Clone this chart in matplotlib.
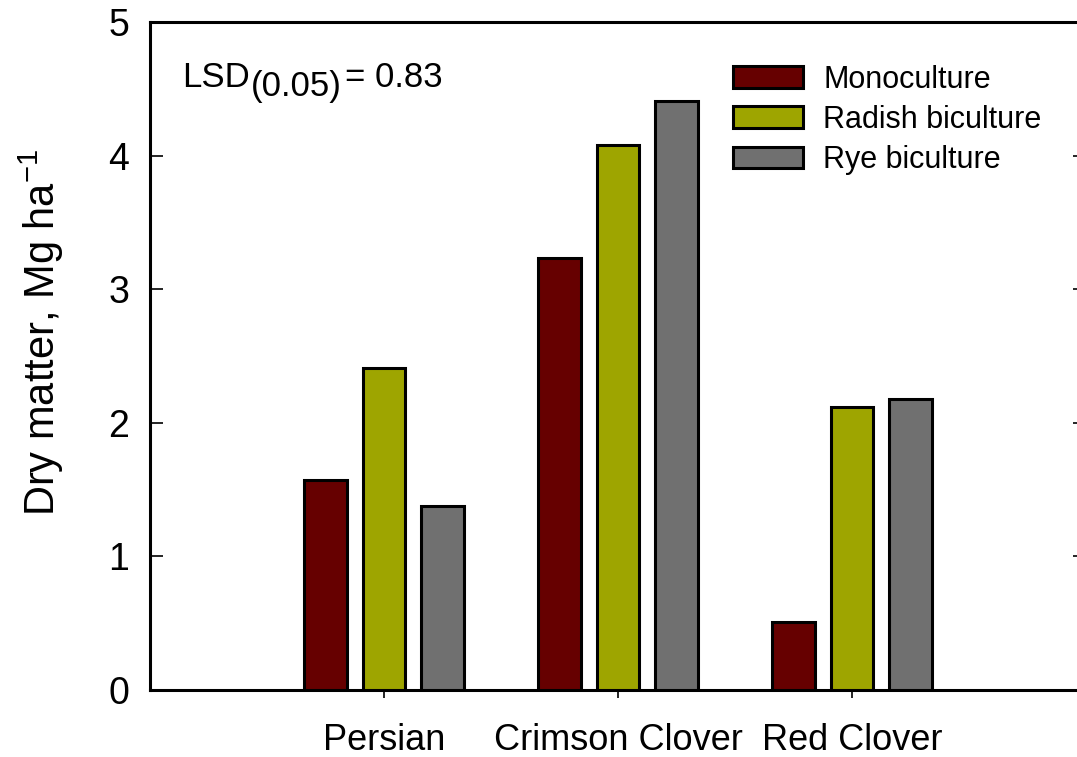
import numpy as np
import matplotlib.pyplot as plt
from matplotlib.patches import Patch

plt.rcParams['font.family'] = ['Liberation Sans', 'DejaVu Sans']

crops = ['Persian', 'Crimson Clover', 'Red Clover']
series = ['Monoculture', 'Radish biculture', 'Rye biculture']
mono = [1.57, 3.23, 0.51]
radish = [2.41, 4.08, 2.12]
rye = [1.38, 4.41, 2.18]
colors = ['#660000', '#9ea500', '#707070']

fig = plt.figure(figsize=(10.77, 7.57), dpi=100)
ax = fig.add_axes([150 / 1077, 1 - 690 / 757, 936 / 1077, 668 / 757])

x = np.arange(1, len(crops) + 1)
w = 0.18
for i, (vals, c) in enumerate(zip([mono, radish, rye], colors)):
    ax.bar(x + (i - 1) * 0.25, vals, width=w, color=c,
           edgecolor='black', linewidth=2.2, zorder=3)

ax.set_xlim(0, 4)
ax.set_ylim(0, 5)
ax.set_xticks(x)
ax.set_xticklabels(crops, fontsize=26)
ax.set_yticks(range(6))
ax.tick_params(axis='y', direction='in', length=9.5, width=1.2,
               labelsize=27, pad=15, right=True)
ax.tick_params(axis='x', direction='out', length=6, width=1.2, pad=18)
for s in ax.spines.values():
    s.set_linewidth(2.2)

ax.set_ylabel('Dry matter, Mg ha$^{\\mathregular{-1}}$', fontsize=30)
ax.yaxis.set_label_coords(-0.09, 0.535)

# LSD note with a full-size subscript
fig.text(182 / 1077, 1 - 87 / 757, 'LSD', fontsize=25, va='baseline')
fig.text(251 / 1077, 1 - 96 / 757, '(0.05)', fontsize=25, va='baseline')
fig.text(345 / 1077, 1 - 87 / 757, '= 0.83', fontsize=25, va='baseline')

handles = [Patch(facecolor=c, edgecolor='black', linewidth=2.2) for c in colors]
ax.legend(handles, series, loc='upper left', bbox_to_anchor=(0.623, 0.936),
          frameon=False, fontsize=22, handlelength=2.3, handleheight=0.7,
          handletextpad=0.65, labelspacing=0.33, borderpad=0, borderaxespad=0)

fig.savefig('out.png', dpi=100)
